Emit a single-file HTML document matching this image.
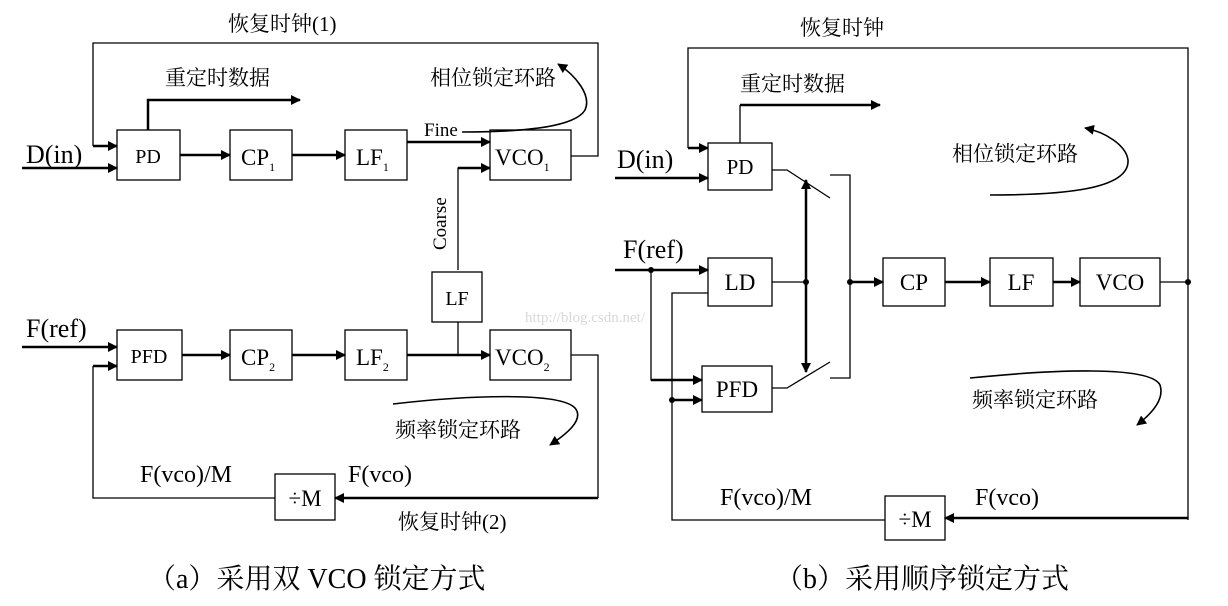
<!DOCTYPE html>
<html><head><meta charset="utf-8"><style>
html,body{margin:0;padding:0;background:#fff}
svg{display:block}
text{font-family:"Liberation Serif","Noto Serif CJK SC",serif;fill:#000}
.cn{font-family:"Liberation Serif","Noto Serif CJK SC",serif}
</style></head><body>
<svg width="1228" height="606" viewBox="0 0 1228 606" xmlns="http://www.w3.org/2000/svg">
<defs>
<marker id="a" markerWidth="10" markerHeight="10" refX="9" refY="5" orient="auto" markerUnits="userSpaceOnUse"><path d="M0,0 L10,5 L0,10 z" fill="#000"/></marker>
</defs>
<g fill="#fff" stroke="#000" stroke-width="1.3">
<rect x="117" y="130" width="63" height="50"/>
<rect x="230" y="130" width="62" height="50"/>
<rect x="345" y="130" width="62" height="50"/>
<rect x="490" y="130" width="81" height="50"/>
<rect x="432" y="272" width="50" height="50"/>
<rect x="117" y="330" width="65" height="50"/>
<rect x="230" y="330" width="62" height="50"/>
<rect x="345" y="330" width="62" height="50"/>
<rect x="490" y="330" width="81" height="50"/>
<rect x="275" y="474" width="60" height="46"/>
<rect x="708" y="143" width="64" height="47"/>
<rect x="708" y="258" width="64" height="48"/>
<rect x="702" y="366" width="70" height="46"/>
<rect x="883" y="258" width="62" height="48"/>
<rect x="990" y="258" width="63" height="48"/>
<rect x="1080" y="258" width="80" height="48"/>
<rect x="885" y="496" width="60" height="44"/>
</g>
<g stroke="#000" fill="none" stroke-width="1.3">
<polyline points="93,146 93,43 598,43 598,156 571,156"/>
<path d="M458,322 V355"/>
<polyline points="571,355 598,355 598,498"/>
<polyline points="275,498 93,498 93,366"/>
<polyline points="458,270 458,168 480,168"/>
<polyline points="688,148 688,48 1188,48 1188,520"/>
<path d="M1160,282 H1188"/>
<path d="M651,270 V380 H690"/>
<polyline points="708,293 672,293 672,520 885,520"/>
<path d="M740,143 V105"/>
<polyline points="772,170 787,170 830,198"/>
<polyline points="772,388 787,388 830,362"/>
<polyline points="830,175 850,175 850,378 830,378"/>
<path d="M772,282 H806"/>
</g>
<g stroke="#000" fill="none" stroke-width="2.5" marker-end="url(#a)">
<path d="M93,146 H117"/>
<path d="M22,168 H117"/>
<polyline points="148,130 148,100 300,100"/>
<path d="M180,155 H230"/>
<path d="M292,155 H345"/>
<path d="M407,142 H490"/>
<path d="M458,168 H490"/>
<path d="M22,347 H117"/>
<path d="M93,366 H117"/>
<path d="M182,355 H230"/>
<path d="M292,355 H345"/>
<path d="M407,355 H490"/>
<path d="M598,498 H335"/>
<path d="M688,148 H708"/>
<path d="M615,178 H708"/>
<path d="M740,105 H880"/>
<path d="M615,270 H708"/>
<path d="M651,380 H702"/>
<path d="M672,400 H702"/>
<path d="M806,282 V180"/>
<path d="M806,282 V372"/>
<path d="M850,282 H883"/>
<path d="M945,282 H990"/>
<path d="M1053,282 H1080"/>
<path d="M1188,518 H945"/>
</g>
<g stroke="#000" fill="none" stroke-width="1.6">
<path d="M462,132 C525,132 575,127 585,110 C592,95 575,75 558,64" marker-end="url(#a)"/>
<path d="M393,404 C470,395 560,392 575,408 C585,420 565,435 550,445" marker-end="url(#a)"/>
<path d="M990,195 C1060,195 1130,190 1128,160 C1126,145 1105,132 1085,128" marker-end="url(#a)"/>
<path d="M970,378 C1050,370 1150,365 1160,385 C1165,400 1150,415 1137,425" marker-end="url(#a)"/>
</g>
<g fill="#000">
<circle cx="651" cy="270" r="3"/><circle cx="672" cy="400" r="3"/>
<circle cx="806" cy="282" r="3"/><circle cx="850" cy="282" r="3"/>
<circle cx="1188" cy="282" r="3"/>
</g>
<g font-size="23">
<text x="148" y="163" text-anchor="middle" font-size="20">PD</text>
<text x="241" y="165">CP<tspan font-size="12" dy="6">1</tspan></text>
<text x="356" y="165">LF<tspan font-size="12" dy="6">1</tspan></text>
<text x="495" y="165">VCO<tspan font-size="12" dy="6">1</tspan></text>
<text x="457" y="305" text-anchor="middle" font-size="20">LF</text>
<text x="149" y="363" text-anchor="middle" font-size="20">PFD</text>
<text x="241" y="365">CP<tspan font-size="12" dy="6">2</tspan></text>
<text x="356" y="365">LF<tspan font-size="12" dy="6">2</tspan></text>
<text x="495" y="365">VCO<tspan font-size="12" dy="6">2</tspan></text>
<text x="305" y="506" text-anchor="middle">÷M</text>
<text x="740" y="174" text-anchor="middle" font-size="21">PD</text>
<text x="740" y="290" text-anchor="middle">LD</text>
<text x="737" y="397" text-anchor="middle">PFD</text>
<text x="914" y="290" text-anchor="middle">CP</text>
<text x="1021" y="290" text-anchor="middle">LF</text>
<text x="1120" y="290" text-anchor="middle">VCO</text>
<text x="915" y="527" text-anchor="middle">÷M</text>
<text x="26" y="163" font-size="26">D(in)</text>
<text x="26" y="337" font-size="26">F(ref)</text>
<text x="617" y="168" font-size="26">D(in)</text>
<text x="623" y="258" font-size="26">F(ref)</text>
<text x="424" y="136" font-size="19">Fine</text>
<text transform="translate(446,250) rotate(-90)" font-size="19">Coarse</text>
<text x="140" y="482" font-size="24">F(vco)/M</text>
<text x="348" y="482" font-size="24">F(vco)</text>
<text x="720" y="505" font-size="24">F(vco)/M</text>
<text x="975" y="505" font-size="24">F(vco)</text>
</g>
<g class="cn" font-size="21">
<text x="228" y="31">恢复时钟(1)</text>
<text x="165" y="85">重定时数据</text>
<text x="430" y="85">相位锁定环路</text>
<text x="395" y="437">频率锁定环路</text>
<text x="398" y="529">恢复时钟(2)</text>
<text x="800" y="35">恢复时钟</text>
<text x="740" y="91">重定时数据</text>
<text x="952" y="161">相位锁定环路</text>
<text x="972" y="407">频率锁定环路</text>
<text x="148" y="588" font-size="28">（a）采用双 VCO 锁定方式</text>
<text x="775" y="588" font-size="28">（b）采用顺序锁定方式</text>
</g>
<text x="525" y="322" font-family="Liberation Mono,monospace" font-size="15" style="fill:#d8d8d8">http://blog.csdn.net/</text>
</svg>
</body></html>
